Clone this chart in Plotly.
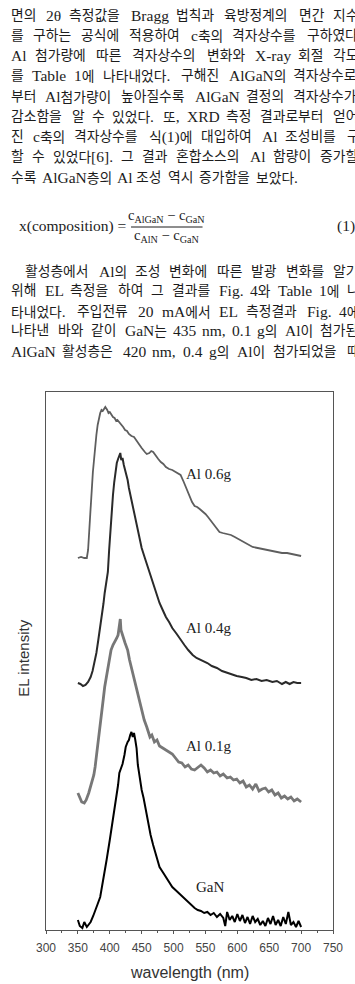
import plotly.graph_objects as go

# ---------------- data ----------------
wl_gan = [350, 353, 357, 360, 364, 367, 370, 374, 377, 381, 385, 390, 395, 400, 405, 410, 413, 415, 418, 420,
          423, 425, 428, 430, 432, 434, 436, 438, 440, 442, 444, 447, 450, 453, 457, 460, 464, 468, 472, 478,
          483, 488, 493, 498, 503, 508, 513, 518, 523, 528, 533, 538, 543, 548, 553, 558, 563, 568, 573, 578,
          581, 584, 588, 592, 596, 600, 604, 608, 612, 616, 620, 624, 628, 632, 636, 640, 644, 648, 652, 656,
          660, 664, 668, 672, 676, 680, 684, 688, 692, 696, 700]
int_gan = [10, 4, 2, 8, 3, 6, 8, 14, 20, 26, 33, 50, 70, 90, 110, 130, 145, 157, 163, 166,
           175, 183, 188, 190, 195, 198, 193, 197, 190, 182, 165, 152, 140, 132, 118, 107, 95, 85, 75, 63,
           58, 53, 48, 43, 40, 37, 33, 30, 27, 25, 22, 20, 19, 17, 18, 15, 17, 13, 16, 12,
           4, 18, 10, 14, 8, 16, 9, 15, 7, 13, 6, 14, 8, 11, 5, 9, 4, 12, 6, 14,
           5, 10, 4, 13, 6, 18, 5, 8, 3, 9, 3]

wl_al01 = [350, 353, 356, 360, 363, 367, 370, 372, 375, 377, 380, 382, 385, 387, 390, 392, 395, 397, 400, 402,
           405, 408, 411, 413, 415, 416.5, 417.5, 419, 421, 424, 428, 431, 435, 439, 443, 447, 450, 454, 458, 463,
           466, 470, 474, 478, 483, 488, 493, 498, 503, 508, 513, 518, 523, 528, 533, 538, 543, 548, 553, 558,
           563, 568, 573, 578, 584, 589, 594, 599, 604, 609, 614, 619, 624, 629, 634, 639, 644, 649, 654, 659,
           664, 669, 674, 679, 684, 689, 694, 700]
int_al01 = [137, 133, 128, 127, 130, 137, 143, 147, 155, 163, 180, 193, 207, 220, 232, 243, 255, 263, 273, 280,
            285, 288, 292, 295, 302, 311, 300, 296, 293, 287, 280, 270, 260, 248, 237, 227, 220, 210, 203, 193,
            195, 188, 190, 184, 182, 180, 178, 176, 172, 168, 167, 163, 165, 161, 160, 163, 165, 162, 158, 160,
            157, 158, 154, 156, 152, 153, 150, 151, 147, 149, 143, 145, 141, 146, 139, 141, 142, 138, 140, 135,
            137, 132, 134, 131, 133, 129, 131, 128]

wl_al04 = [350, 354, 358, 362, 366, 370, 373, 376, 379, 382, 385, 387, 390, 392, 395, 397, 399, 401, 403, 405,
           407, 409, 411, 413, 415, 416.5, 418, 420, 422, 425, 428, 430, 434, 438, 441, 443, 447, 450, 455, 460,
           465, 470, 474, 478, 483, 488, 493, 498, 505, 511, 517, 523, 530, 536, 543, 548, 553, 560, 568, 576,
           584, 592, 599, 607, 614, 622, 630, 638, 646, 655, 662, 670, 676, 682, 688, 694, 700]
int_al04 = [247, 246, 244, 245, 248, 253, 259, 267, 277, 290, 302, 313, 326, 337, 348, 358, 380, 402, 420, 435,
            448, 460, 467, 471, 475, 477, 470, 472, 465, 458, 450, 442, 430, 418, 408, 403, 392, 382, 372, 362,
            352, 343, 335, 327, 320, 313, 308, 302, 296, 290, 285, 280, 275, 272, 270, 268, 267, 264, 262, 259,
            257, 255, 254, 253, 252, 250, 251, 249, 250, 248, 249, 246, 248, 246, 248, 247, 247]

wl_al06 = [350, 355, 360, 364, 366, 367, 368, 369.6, 371, 372, 373.5, 375, 377, 379, 381, 383, 385, 387, 389, 391,
           393, 396, 398, 400, 403, 405, 407.5, 410, 412, 415, 418, 421, 424, 427, 430, 434, 438, 441, 445, 450,
           455, 458, 462, 465, 468, 472, 476, 480, 484, 488, 493, 498, 503, 507, 511, 516, 521, 525, 529, 533,
           537, 541, 545, 550, 554, 559, 564, 568, 572, 577, 584, 590, 596, 602, 609, 616, 624, 632, 640, 648,
           655, 662, 670, 678, 685, 692, 700]
int_al06 = [372, 373, 372, 372, 380, 388, 400, 418, 432, 445, 458, 468, 485, 495, 505, 512, 517, 520, 519, 521,
            523, 520, 517, 518, 515, 513, 512, 509, 510, 508, 506, 503, 500, 499, 496, 494, 493, 490, 486, 482,
            478, 476, 477, 479, 478, 474, 471, 468, 466, 463, 461, 460, 458, 457, 455, 448, 440, 433, 428, 424,
            423, 421, 419, 416, 413, 409, 405, 401, 398, 397, 396, 395, 393, 391, 388, 386, 383, 382, 381, 380,
            379, 378, 377, 377, 376, 375, 374]

series_names = ["Al 0.6g", "Al 0.4g", "Al 0.1g", "GaN"]
label_x = [516, 516, 517, 532]
label_y = [456, 302, 184, 43]
x_ticks = [300, 350, 400, 450, 500, 550, 600, 650, 700, 750]
x_minor = [325, 375, 425, 475, 525, 575, 625, 675, 725]

text_lines_1 = [
    "면의 2θ 측정값을 Bragg 법칙과 육방정계의 면간 지수",
    "를 구하는 공식에 적용하여 c축의 격자상수를 구하였다",
    "Al 첨가량에 따른 격자상수의 변화와 X-ray 회절 각도",
    "를 Table 1에 나타내었다. 구해진 AlGaN의 격자상수로",
    "부터 Al첨가량이 높아질수록 AlGaN 결정의 격자상수가",
    "감소함을 알 수 있었다. 또, XRD 측정 결과로부터 얻어",
    "진 c축의 격자상수를 식(1)에 대입하여 Al 조성비를 구",
    "할 수 있었다[6]. 그 결과 혼합소스의 Al 함량이 증가할",
    "수록 AlGaN층의 Al 조성 역시 증가함을 보았다.",
]
text_lines_2 = [
    "활성층에서 Al의 조성 변화에 따른 발광 변화를 알기",
    "위해 EL 측정을 하여 그 결과를 Fig. 4와 Table 1에 나",
    "타내었다. 주입전류 20 mA에서 EL 측정결과 Fig. 4에",
    "나타낸 바와 같이 GaN는 435 nm, 0.1 g의 Al이 첨가된",
    "AlGaN 활성층은 420 nm, 0.4 g의 Al이 첨가되었을 때",
]

# ---------------- layout helpers ----------------
W, H = 355, 984
ML, MR, MT, MB = 46, 12, 392, 54
PW, PH = W - ML - MR, H - MT - MB

def px_x(px):
    return (px - ML) / PW

def px_y(py):
    return (H - MB - py) / PH

HS = 13.8   # hangul size
LS = 15.5   # latin size
TIMES = {' ': 250, '(': 333, ')': 333, '[': 333, ']': 333, '.': 250, ',': 250, '-': 333,
         'A': 722, 'B': 667, 'D': 722, 'E': 611, 'F': 556, 'G': 722, 'L': 611, 'N': 722, 'R': 667,
         'T': 611, 'X': 722, 'a': 444, 'b': 500, 'c': 444, 'e': 444, 'g': 500, 'i': 278, 'l': 278,
         'm': 778, 'n': 500, 'o': 500, 'p': 500, 'r': 333, 's': 389, 't': 278, 'x': 500, 'y': 500}

def is_hangul(ch):
    return '\uac00' <= ch <= '\ud7a3'

def width(s):
    return sum(HS if is_hangul(c) else TIMES.get(c, 500) * LS / 1000 for c in s)

def markup(s):
    out, run, cur = [], '', None
    for c in s:
        h = is_hangul(c)
        if cur is None or h == cur:
            run += c
        else:
            out.append((cur, run)); run = c
        cur = h
    if run:
        out.append((cur, run))
    return ''.join(f'<span style="font-size:{HS}px">{r}</span>' if h else r for h, r in out)

annotations = []
TXT = dict(family="Liberation Serif, Noto Sans CJK KR", size=LS, color="#1c1c1c")

def add_line(line, y, left, right, justify):
    words = line.split(' ')
    ws = [width(w) for w in words]
    if justify and len(words) > 1:
        gap = max(2.5, (right - left - sum(ws)) / (len(words) - 1))
    else:
        gap = 0.3 * LS
    x = left
    for w, wd in zip(words, ws):
        annotations.append(dict(xref='paper', yref='paper', x=px_x(x), y=px_y(y), text=markup(w),
                                showarrow=False, xanchor='left', yanchor='middle', font=TXT))
        x += wd + gap

R_EDGE = 369
for i, line in enumerate(text_lines_1):
    add_line(line, 15 + 20.25 * i, 8, R_EDGE, i < len(text_lines_1) - 1)
for i, line in enumerate(text_lines_2):
    add_line(line, 271 + 20 * i, 22 if i == 0 else 8, R_EDGE, True)

# equation
annotations += [
    dict(xref='paper', yref='paper', x=px_x(131), y=px_y(226), text="x(composition) =",
         showarrow=False, xanchor='right', yanchor='middle', font=TXT),
    dict(xref='paper', yref='paper', x=px_x(171), y=px_y(216), text="c<sub>AlGaN</sub> − c<sub>GaN</sub>",
         showarrow=False, xanchor='center', yanchor='middle', font=dict(TXT, size=14.5)),
    dict(xref='paper', yref='paper', x=px_x(171), y=px_y(236), text="c<sub>AlN</sub> − c<sub>GaN</sub>",
         showarrow=False, xanchor='center', yanchor='middle', font=dict(TXT, size=14.5)),
    dict(xref='paper', yref='paper', x=px_x(345), y=px_y(226), text="(1)",
         showarrow=False, xanchor='left', yanchor='middle', font=TXT),
]
shapes = [dict(type='line', xref='paper', yref='paper', x0=px_x(134), x1=px_x(208),
               y0=px_y(227), y1=px_y(227), line=dict(color='#1c1c1c', width=1))]

# axis titles
annotations += [
    dict(xref='paper', yref='paper', x=px_x(22), y=px_y(658), text="EL intensity", textangle=-90,
         showarrow=False, xanchor='center', yanchor='middle',
         font=dict(family="Liberation Sans, Arial", size=15, color="#333")),
    dict(xref='paper', yref='paper', x=0.5, y=px_y(972), text="wavelength (nm)",
         showarrow=False, xanchor='center', yanchor='middle',
         font=dict(family="Liberation Sans, Arial", size=16, color="#333")),
]
# curve labels
for name, lx, ly in zip(series_names, label_x, label_y):
    annotations.append(dict(xref='x', yref='y', x=lx, y=ly, text=name, showarrow=False,
                            xanchor='left', yanchor='middle',
                            font=dict(family="Liberation Serif", size=15, color="#222")))

# ---------------- figure ----------------
fig = go.Figure()
curves = [(wl_al06, int_al06, '#5e5e5e', 1.8), (wl_al04, int_al04, '#2a2a2a', 2.0),
          (wl_al01, int_al01, '#777777', 2.8), (wl_gan, int_gan, '#000000', 2.0)]
for (xs, ys, col, lw), name in zip(curves, series_names):
    fig.add_trace(go.Scatter(x=xs, y=ys, mode='lines', name=name,
                             line=dict(color=col, width=lw), showlegend=False))

fig.update_layout(
    width=W, height=H, margin=dict(l=ML, r=MR, t=MT, b=MB, pad=0),
    paper_bgcolor='white', plot_bgcolor='white',
    annotations=annotations, shapes=shapes, showlegend=False,
    xaxis=dict(range=[300, 750], tickvals=x_ticks, ticktext=[str(v) for v in x_ticks],
               ticks='outside', ticklen=3, tickwidth=1, tickcolor='#555',
               showline=True, linecolor='#555', linewidth=1.2, mirror=True,
               showgrid=False, zeroline=False, ticklabelstandoff=3,
               tickfont=dict(family="Liberation Sans, Arial", size=12, color="#444"),
               minor=dict(tickvals=x_minor, ticks='outside', ticklen=2, tickcolor='#555', showgrid=False)),
    yaxis=dict(range=[0, 538], showticklabels=False, ticks='', showline=True, linecolor='#555',
               linewidth=1.2, mirror=True, showgrid=False, zeroline=False),
)
fig.write_html("out.html", config={'displayModeBar': False})
